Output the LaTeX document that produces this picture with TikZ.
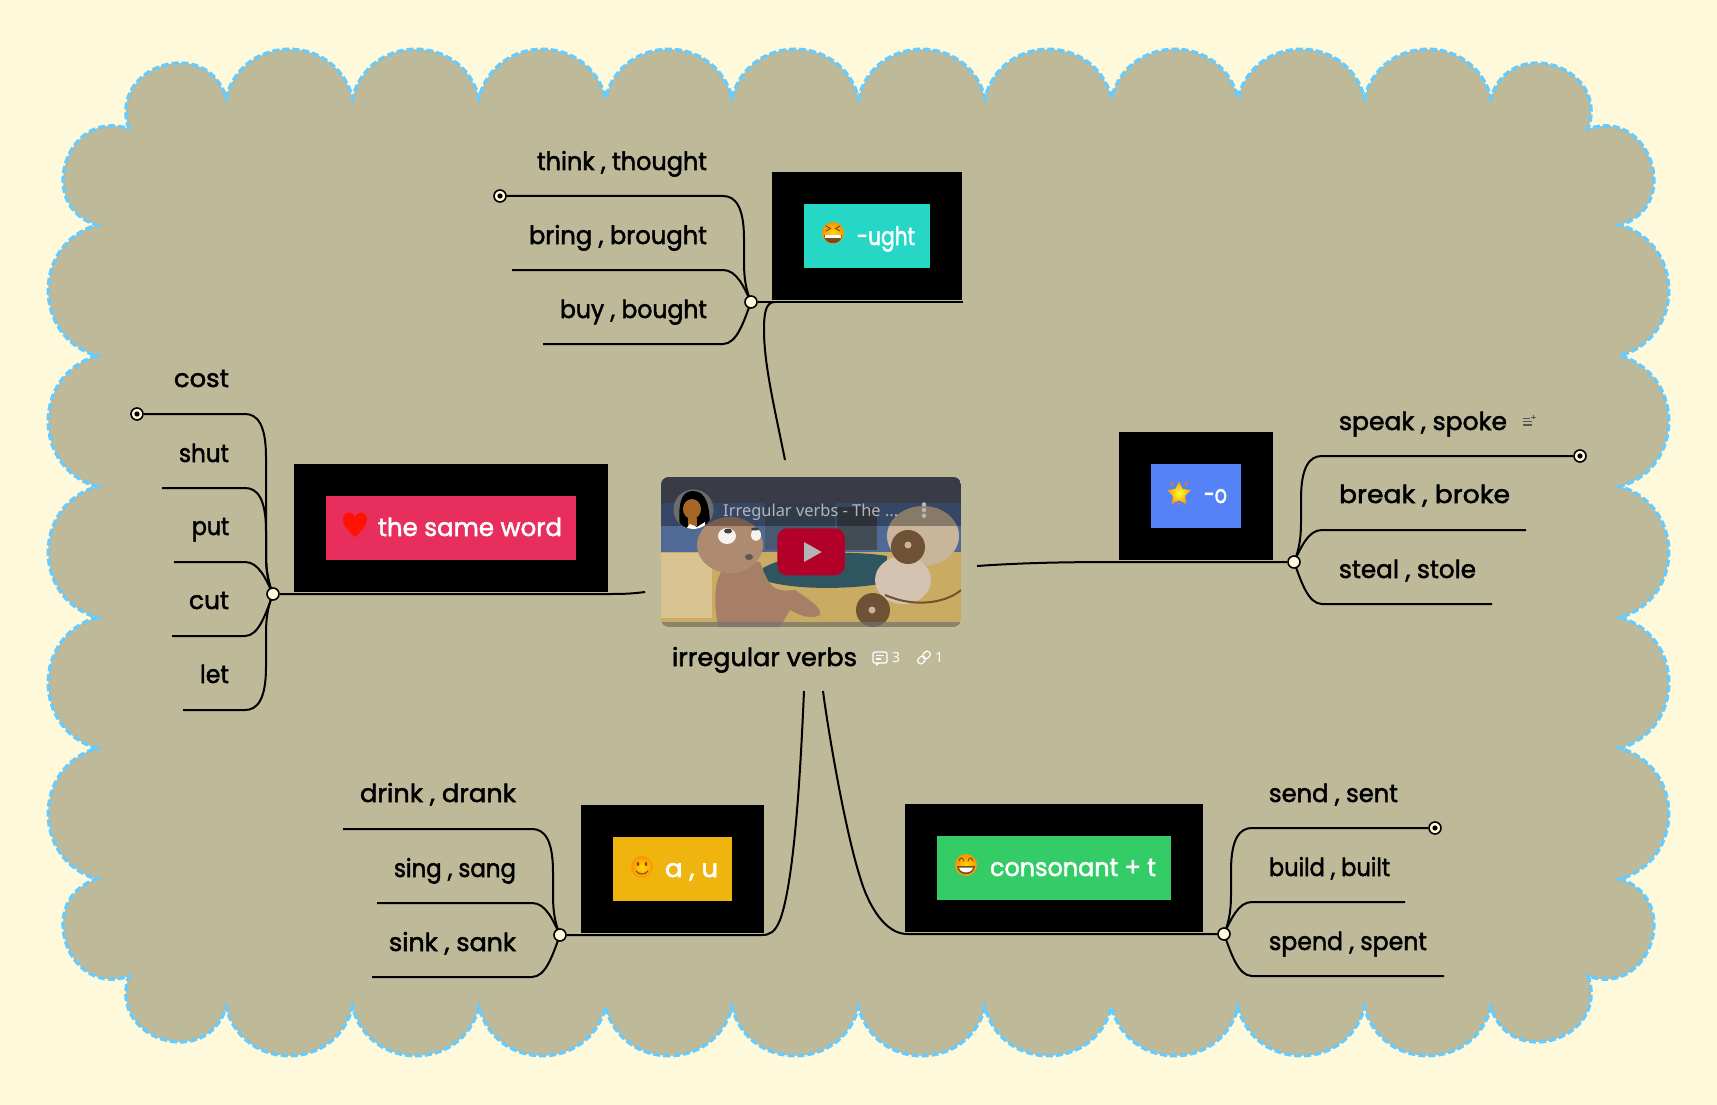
\documentclass[tikz,border=0pt]{standalone}
\usepackage{fontspec}
\usepackage{graphicx}
\usetikzlibrary{shapes.geometric,backgrounds}
\setmainfont[FakeBold=2]{Poppins}
\newfontfamily\ytf{Noto Sans}
\definecolor{creamc}{HTML}{FFF9DB}
\definecolor{tanc}{HTML}{BDB999}
\definecolor{dashc}{HTML}{66CCFF}
\definecolor{tealc}{HTML}{26D7C5}
\definecolor{bluec}{HTML}{5582F6}
\definecolor{redc}{HTML}{E82E5C}
\definecolor{orangec}{HTML}{F0B40F}
\definecolor{greenc}{HTML}{33CC66}
\definecolor{floorc}{HTML}{C9AB62}
\definecolor{wallc}{HTML}{4F6A94}
\definecolor{topbarc}{HTML}{55586A}
\definecolor{bearc}{HTML}{A67F66}
\definecolor{bearl}{HTML}{AE8A70}
\definecolor{seatc}{HTML}{2F5560}
\definecolor{panelc}{HTML}{434B55}
\definecolor{shellc}{HTML}{C9B49C}
\definecolor{wheelc}{HTML}{6F5236}
\definecolor{playc}{HTML}{B30028}
\definecolor{titlec}{HTML}{B4B4B4}
\definecolor{iconc}{HTML}{555555}
\pgfdeclarelayer{bgl}\pgfdeclarelayer{lin}
\pgfsetlayers{bgl,lin,main}
\tikzset{
  x=1pt,y=-1pt,
  blk/.style={fill=black,inner sep=0,outer sep=0,anchor=north west},
  inn/.style={inner sep=0,outer sep=0,anchor=north west},
  hubn/.style={circle,draw=black,line width=1.6pt,fill=creamc,minimum size=12pt,inner sep=0},
  conn/.style={draw=black,line width=2pt},
  txtn/.style={anchor=base west,inner sep=0,outer sep=0,font=\fontsize{25}{25}\selectfont},
  facen/.style={circle,inner sep=0,minimum size=22pt,inner color=yellow!70!orange,outer color=orange!85!yellow},
  fdet/.style={draw=brown!60!black,line width=1pt,line cap=round},
}
% name, left, right, baseline, text
\newcommand\lab[6][black]{\pgfmathsetmacro\wdth{#4-#3}\node[txtn,text=#1] (#2) at (#3,#5) {\resizebox{\wdth pt}{\height}{#6}};}
% far branch: hub, dir, sign, dy, end
\newcommand\farb[5]{\draw[conn] (#1.center) .. controls ([shift={(#2*4,#3*10)}]#1.center) and ([shift={(#2*7,#3*20)}]#1.center) .. ([shift={(#2*7,#3*40)}]#1.center) -- ([shift={(#2*7,#4-#3*43)}]#1.center) .. controls ([shift={(#2*7,#4-#3*10)}]#1.center) and ([shift={(#2*16,#4)}]#1.center) .. ([shift={(#2*28,#4)}]#1.center) -- (#5);}
% near branch: hub, dir, dy, end
\newcommand\nearb[4]{\draw[conn] (#1.center) .. controls ([shift={(#2*7,#3*0.45)}]#1.center) and ([shift={(#2*14,#3)}]#1.center) .. ([shift={(#2*28,#3)}]#1.center) -- (#4);}
% end marker: name, x, y
\newcommand\markend[3]{\node[hubn] (#1) at (#2,#3) {}; \fill[black] (#1.center) circle[radius=2.6pt];}
\begin{document}
\begin{tikzpicture}
\useasboundingbox (0,0) rectangle (1717,1105);
\begin{pgfonlayer}{bgl}
\fill[creamc] (0,0) rectangle (1717,1105);
\path[fill=tanc,draw=dashc,line width=3.4pt,dash pattern=on 7pt off 3pt]
 (129,129) .. controls (107,66) and (207,34) .. (226,98)
 foreach \ii in {0,...,9} { .. controls ({226+126.5*\ii+17},33) and ({226+126.5*(\ii+1)-17},33) .. ({226+126.5*(\ii+1)},98) }
 .. controls (1510,34) and (1610,66) .. (1588,129)
 .. controls (1650,107) and (1683,206) .. (1620,225)
 foreach \ii in {0,...,4} { .. controls (1685,{225+130.8*\ii+19}) and (1685,{225+130.8*(\ii+1)-19}) .. (1620,{225+130.8*(\ii+1)}) }
 .. controls (1683,899) and (1650,998) .. (1588,976)
 .. controls (1610,1039) and (1510,1071) .. (1491,1007)
 foreach \ii in {0,...,9} { .. controls ({1491-126.5*\ii-17},1072) and ({1491-126.5*(\ii+1)+17},1072) .. ({1491-126.5*(\ii+1)},1007) }
 .. controls (207,1071) and (107,1039) .. (129,976)
 .. controls (67,998) and (34,899) .. (97,879)
 foreach \ii in {0,...,4} { .. controls (32,{879-130.8*\ii-19}) and (32,{879-130.8*(\ii+1)+19}) .. (97,{879-130.8*(\ii+1)}) }
 .. controls (34,206) and (67,107) .. (129,129) -- cycle;
\end{pgfonlayer}

% central topic: video thumbnail
\node[inn,minimum width=300pt,minimum height=150pt] (vid) at (661,477) {};
\begin{scope}
\clip[rounded corners=8pt] (661,477) rectangle (961,627);
\fill[floorc] (661,477) rectangle (961,627);
\fill[wallc] (661,477) rectangle (961,552);
\fill[topbarc] (661,477) rectangle (961,503);
\fill[panelc!55!wallc] (765,503) rectangle (835,550);
\fill[panelc] (837,507) rectangle (877,550);
\fill[floorc!70!white] (661,553) rectangle (712,618);
\fill[seatc] (763,568) .. controls (790,552) and (850,550) .. (887,556) -- (885,583) .. controls (850,590) and (790,590) .. (763,580) -- cycle;
% bear
\fill[bearc] (718,627) .. controls (712,590) and (715,570) .. (735,560) -- (760,562) .. controls (770,590) and (775,592) .. (795,590) .. controls (810,600) and (822,608) .. (820,615) .. controls (810,620) and (800,615) .. (790,610) -- (780,627) -- cycle;
\fill[bearl] (730,545) ellipse[x radius=33pt,y radius=28pt];
\fill[white!90!bearc] (727,536) ellipse[x radius=9pt,y radius=8pt];
\fill[white!90!bearc] (756,535) ellipse[x radius=5pt,y radius=6pt];
\fill[black!75] (728,531) ellipse[x radius=4pt,y radius=2.5pt];
\fill[black!75] (755,529) ellipse[x radius=4pt,y radius=1.5pt];
\fill[black!65] (749,557) ellipse[x radius=4pt,y radius=3pt];
% shell and wheels
\fill[shellc] (923,536) ellipse[x radius=36pt,y radius=30pt];
\fill[shellc!80!white] (903,580) ellipse[x radius=28pt,y radius=24pt];
\draw[wheelc,line width=2pt] (885,595) .. controls (920,610) and (950,600) .. (961,590);
\fill[wheelc] (908,547) circle[radius=17pt];
\fill[wheelc] (873,610) circle[radius=17pt];
\fill[shellc] (908,545) circle[radius=3.5pt];
\fill[shellc] (872,610) circle[radius=3.5pt];
\fill[black!55,opacity=.7] (661,622) rectangle (961,627);
\fill[black,opacity=.32] (661,477) rectangle (961,526);
\end{scope}
% avatar
\node[circle,fill=gray!85!black,minimum size=40pt,inner sep=0] (ava) at (693.5,509.5) {};
\begin{scope}
\clip (693.5,509.5) circle[radius=19.5pt];
\fill[black] (680,529) .. controls (678,505) and (680,491) .. (693,491) .. controls (706,491) and (710,505) .. (710,529) -- cycle;
\fill[brown!75!orange!80!black] (692,509) ellipse[x radius=9pt,y radius=10pt];
\fill[brown!75!orange!80!black] (688,518) rectangle (697,526);
\fill[white] (685,530) -- (690,524) -- (697,527) -- (705,522) -- (705,530) -- cycle;
\end{scope}
\node[anchor=base west,inner sep=0,text=titlec,font=\ytf\fontsize{16.5}{16.5}\selectfont] (vtitle) at (723,516) {\resizebox{175pt}{\height}{Irregular verbs - The ...}};
\foreach \yy in {504.5,510,515.7}{\fill[titlec] (924,\yy) circle[radius=2.3pt];}
\node[inn,fill=playc,minimum width=67.5pt,minimum height=47pt,rounded corners=10pt] (play) at (777.3,528.3) {};
\fill[titlec] (804,542) -- (804,562) -- (821.7,552) -- cycle;

\lab{ctitle}{672}{857}{666}{irregular verbs}
% comment and link icons
\draw[white,line width=1.2pt,rounded corners=2pt] (873,652) rectangle (887,663);
\draw[white,line width=1.1pt] (876,655.5) -- (884,655.5) (876,659) -- (881,659);
\fill[white] (876,663) -- (880,663) -- (876,666) -- cycle;
\node[anchor=center,inner sep=0,text=white,font=\ytf\fontsize{14}{14}\selectfont] (ncomm) at (896,657) {3};
\draw[white,line width=1.2pt,rotate around={45:(924,657.5)},rounded corners=2.5pt] (916.5,654.5) rectangle (924.5,660.5) (923.5,654.5) rectangle (931.5,660.5);
\node[anchor=center,inner sep=0,text=white,font=\ytf\fontsize{14}{14}\selectfont] (nlink) at (939,657) {1};

% main topics
\node[blk,minimum width=190pt,minimum height=128pt] (bug) at (772,172) {};
\node[inn,fill=tealc,minimum width=126pt,minimum height=64pt] (ug) at (804,204) {};
\node[blk,minimum width=154pt,minimum height=128pt] (bo) at (1119,432) {};
\node[inn,fill=bluec,minimum width=90pt,minimum height=64pt] (o) at (1151,464) {};
\node[blk,minimum width=314pt,minimum height=128pt] (bsw) at (294,464) {};
\node[inn,fill=redc,minimum width=250pt,minimum height=64pt] (sw) at (326,496) {};
\node[blk,minimum width=183pt,minimum height=128pt] (bau) at (581,805) {};
\node[inn,fill=orangec,minimum width=119pt,minimum height=64pt] (au) at (613,837) {};
\node[blk,minimum width=298pt,minimum height=128pt] (bct) at (905,804) {};
\node[inn,fill=greenc,minimum width=234pt,minimum height=64pt] (ct) at (937,836) {};

\lab[white]{tug}{857}{915}{245}{-ught}
\lab[white]{to}{1204}{1227}{503}{-o}
\lab[white]{tsw}{378}{562}{536}{the same word}
\lab[white]{tau}{665}{718}{877}{a , u}
\lab[white]{tct}{990}{1156}{876}{consonant + t}

% emoji drawn as shapes
\node[facen] (e1) at (833,233) {};
\draw[fdet] (826,226) -- (830.5,228.5) -- (826,231) (840,226) -- (835.5,228.5) -- (840,231);
\fill[brown!60!black] (824,235) -- (842,235) .. controls (842,246) and (824,246) .. (824,235) -- cycle;
\fill[white] (825,235) rectangle (841,238);
\node[facen] (e2) at (642,867) {};
\fill[brown!60!black] (638,864) ellipse[x radius=1.3pt,y radius=2pt] (646,864) ellipse[x radius=1.3pt,y radius=2pt];
\draw[fdet] (636,871) .. controls (639,875) and (645,875) .. (648,871);
\node[facen] (e3) at (966,865) {};
\draw[fdet] (959,861) .. controls (960,857) and (963,857) .. (964,861) (968,861) .. controls (969,857) and (972,857) .. (973,861);
\fill[brown!60!black] (957,866) -- (975,866) .. controls (974,877) and (958,877) .. (957,866) -- cycle;
\fill[white] (959,867.5) -- (973,867.5) .. controls (972,874) and (960,874) .. (959,867.5) -- cycle;
\node[star,star points=5,star point ratio=2,inner color=yellow!80!white,outer color=orange!80!yellow,inner sep=0,minimum size=25pt] (e4) at (1179,494) {};
\draw[orange,line width=1.3pt,line cap=round] (1171,482) -- (1173,485) (1187,482) -- (1185,485) (1179,503) -- (1179,505);
\node[inner sep=0,minimum size=1pt] (e5) at (355,524) {};
\fill[red!85!orange] (355,537) .. controls (349,531) and (343,526) .. (343,520) .. controls (343,511) and (352,510) .. (355,517) .. controls (358,510) and (367,511) .. (367,520) .. controls (367,526) and (361,531) .. (355,537) -- cycle;

% hubs and marks
\node[hubn] (h1) at (751,302) {};
\node[hubn] (h2) at (1294,562) {};
\node[hubn] (h3) at (273,594) {};
\node[hubn] (h4) at (560,935) {};
\node[hubn] (h5) at (1224,934) {};
\markend{m1}{500}{196}
\markend{m2}{1580}{456}
\markend{m3}{137}{414}
\markend{m4}{1435}{828}
% free ends
\coordinate (a0) at (963,302);
\coordinate (a2) at (543,344);\coordinate (a1) at (512,270);
\coordinate (b1) at (1526,530);\coordinate (b2) at (1492,604);
\coordinate (c1) at (162,488);\coordinate (c2) at (174,562);\coordinate (c3) at (172,636);\coordinate (c4) at (183,710);
\coordinate (d0) at (343,829);\coordinate (d1) at (377,903);\coordinate (d2) at (372,977);
\coordinate (e6) at (1405,902);\coordinate (e7) at (1444,976);
\coordinate (ce1) at (785,460);\coordinate (ce2) at (977,566);\coordinate (ce3) at (645,592);\coordinate (ce4) at (804,691);\coordinate (ce5) at (823,691);

\begin{pgfonlayer}{lin}
\farb{h1}{-1}{-1}{-106}{m1}
\nearb{h1}{-1}{-32}{a1}
\nearb{h1}{-1}{42}{a2}
\farb{h2}{1}{-1}{-106}{m2}
\nearb{h2}{1}{-32}{b1}
\nearb{h2}{1}{42}{b2}
\farb{h3}{-1}{-1}{-180}{m3}
\farb{h3}{-1}{-1}{-106}{c1}
\nearb{h3}{-1}{-32}{c2}
\nearb{h3}{-1}{42}{c3}
\farb{h3}{-1}{1}{116}{c4}
\farb{h4}{-1}{-1}{-106}{d0}
\nearb{h4}{-1}{-32}{d1}
\nearb{h4}{-1}{42}{d2}
\farb{h5}{1}{-1}{-106}{m4}
\nearb{h5}{1}{-32}{e6}
\nearb{h5}{1}{42}{e7}
\draw[conn] (a0) -- (h1);
\draw[conn] (ce1) .. controls (775,410) and (764,365) .. (764,330) .. controls (764,312) and (766,302) .. (775,302);
\draw[conn] (ce2) .. controls (1020,563) and (1060,562) .. (1119,562) -- (h2);
\draw[conn] (ce3) .. controls (630,594) and (620,594) .. (608,594) -- (h3);
\draw[conn] (ce4) .. controls (801,760) and (795,880) .. (780,920) .. controls (775,932) and (770,935) .. (762,935) -- (h4);
\draw[conn] (ce5) .. controls (828,730) and (845,830) .. (860,877) .. controls (868,905) and (885,934) .. (907,934) -- (h5);
\end{pgfonlayer}

% subtopic labels
\lab{l1}{537}{707}{170}{think , thought}
\lab{l2}{529}{707}{244}{bring , brought}
\lab{l3}{560}{707}{318}{buy , bought}
\lab{l4}{1339}{1507}{430}{speak , spoke}
\lab{l5}{1339}{1510}{503}{break , broke}
\lab{l6}{1339}{1476}{578}{steal , stole}
\lab{l7}{174}{229}{387}{cost}
\lab{l8}{179}{229}{462}{shut}
\lab{l9}{192}{229}{535}{put}
\lab{l10}{189}{229}{609}{cut}
\lab{l11}{200}{229}{683}{let}
\lab{l12}{360}{516}{802}{drink , drank}
\lab{l13}{394}{516}{877}{sing , sang}
\lab{l14}{389}{516}{951}{sink , sank}
\lab{l15}{1269}{1398}{802}{send , sent}
\lab{l16}{1269}{1390}{876}{build , built}
\lab{l17}{1269}{1427}{950}{spend , spent}
% note icon
\draw[iconc,line width=1.2pt] (1523,418.5) -- (1530,418.5) (1523,421.7) -- (1532,421.7) (1523,425) -- (1532,425);
\draw[iconc,line width=.9pt] (1531,417) -- (1535.5,417) (1533.2,414.7) -- (1533.2,419.3);
\end{tikzpicture}
\end{document}
